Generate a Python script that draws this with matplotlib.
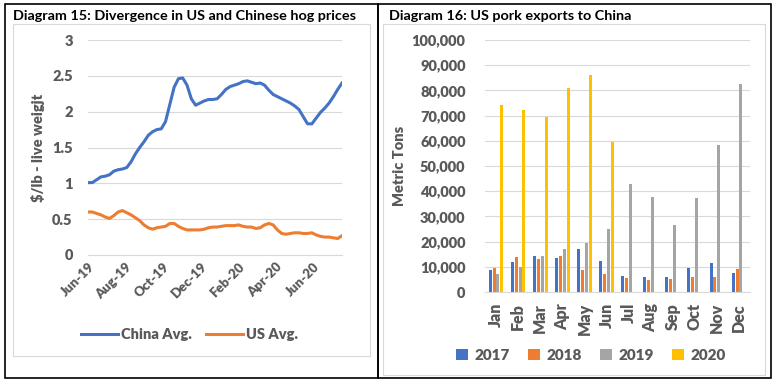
import numpy as np
import pandas as pd
import matplotlib
matplotlib.use("Agg")
import matplotlib.pyplot as plt
from matplotlib.patches import Rectangle

plt.rcParams["font.family"] = ["Lato", "DejaVu Sans"]
plt.rcParams["font.weight"] = "bold"
plt.rcParams["axes.labelweight"] = "bold"

# weekly hog prices, $/lb live weight
week_start = "2019-06-01"
china_avg = [1.01, 1.01, 1.05, 1.09, 1.10, 1.12, 1.17, 1.19, 1.20, 1.22,
             1.30, 1.41, 1.50, 1.58, 1.67, 1.72, 1.75, 1.76, 1.86, 2.10,
             2.34, 2.46, 2.47, 2.37, 2.18, 2.09, 2.12, 2.15, 2.17, 2.17,
             2.18, 2.24, 2.31, 2.35, 2.37, 2.39, 2.42, 2.43, 2.41, 2.39,
             2.40, 2.37, 2.30, 2.24, 2.21, 2.18, 2.15, 2.12, 2.08, 2.03,
             1.93, 1.83, 1.83, 1.91, 1.99, 2.05, 2.12, 2.21, 2.31, 2.40]
us_avg = [0.60, 0.60, 0.58, 0.56, 0.53, 0.51, 0.55, 0.60, 0.62, 0.59,
          0.56, 0.52, 0.48, 0.42, 0.38, 0.36, 0.38, 0.39, 0.40, 0.44,
          0.44, 0.40, 0.37, 0.35, 0.35, 0.35, 0.35, 0.36, 0.38, 0.39,
          0.39, 0.40, 0.41, 0.41, 0.41, 0.42, 0.40, 0.39, 0.39, 0.37,
          0.38, 0.42, 0.44, 0.42, 0.35, 0.30, 0.29, 0.30, 0.31, 0.31,
          0.30, 0.30, 0.31, 0.28, 0.26, 0.25, 0.25, 0.24, 0.23, 0.27]
price_ticks = ["2019-06-01", "2019-08-01", "2019-10-01", "2019-12-01",
               "2020-02-01", "2020-04-01", "2020-06-01"]

# monthly US pork exports to China, metric tons
months = ["Jan", "Feb", "Mar", "Apr", "May", "Jun",
          "Jul", "Aug", "Sep", "Oct", "Nov", "Dec"]
exp_2017 = [8900, 12100, 14100, 13300, 16900, 12500,
            6500, 6100, 6100, 9700, 11700, 7700]
exp_2018 = [9700, 13700, 12900, 14100, 8900, 7300,
            5700, 4900, 5300, 6100, 6100, 9300]
exp_2019 = [7300, 10000, 14100, 16900, 19300, 24900,
            42900, 37700, 26500, 37300, 58300, 82500]
exp_2020 = [74200, 72200, 69600, 81000, 86100, 59600,
            np.nan, np.nan, np.nan, np.nan, np.nan, np.nan]

BLUE = "#4472C4"
ORANGE = "#ED7D31"
GRAY = "#A5A5A5"
GOLD = "#FFC000"
TXT = "#595959"
GRID = "#D9D9D9"
HEAVY = "heavy"

W, H = 776, 386
fig = plt.figure(figsize=(W / 100, H / 100), dpi=100)


def px_rect(x0, y0, x1, y1):
    # pixel box (top-left origin) -> figure fraction [l, b, w, h]
    return [x0 / W, (H - y1) / H, (x1 - x0) / W, (y1 - y0) / H]


def frame(x0, y0, x1, y1, color, lw):
    l, b, w, h = px_rect(x0, y0, x1, y1)
    fig.add_artist(Rectangle((l, b), w, h, transform=fig.transFigure,
                             fill=False, edgecolor=color, linewidth=lw))


frame(5, 4, 378, 378, "black", 1.2)
frame(378, 4, 771, 378, "black", 1.2)
frame(13, 24, 370, 356, GRID, 0.8)
frame(383, 24, 765, 375, GRID, 0.8)

fig.text(13 / W, 1 - 16 / H, "Diagram 15: Divergence in US and Chinese hog prices",
         fontsize=10.4, fontweight="bold", va="center", ha="left")
fig.text(389 / W, 1 - 16 / H, "Diagram 16: US pork exports to China",
         fontsize=10.4, fontweight="bold", va="center", ha="left")


def style_axes(ax, size_x, size_y):
    ax.grid(axis="y", color=GRID, linewidth=0.8)
    ax.set_axisbelow(True)
    for s in ["top", "right", "left"]:
        ax.spines[s].set_visible(False)
    ax.spines["bottom"].set_color(GRID)
    ax.tick_params(length=0, colors=TXT)
    for lab in ax.get_xticklabels():
        lab.set_fontweight(HEAVY)
        lab.set_fontsize(size_x)
    for lab in ax.get_yticklabels():
        lab.set_fontweight(HEAVY)
        lab.set_fontsize(size_y)


# --- left: hog prices
ax1 = fig.add_axes(px_rect(88, 40, 342, 255))
dates = pd.date_range(week_start, periods=len(china_avg), freq="7D")
ax1.plot(dates, china_avg, color=BLUE, linewidth=2.2, label="China Avg.")
ax1.plot(dates, us_avg, color=ORANGE, linewidth=2.2, label="US Avg.")
ax1.set_xlim(dates[0], dates[-1])
ax1.set_ylim(0, 3)
ax1.set_yticks(np.arange(0, 3.01, 0.5))
ax1.set_yticklabels([f"{v:g}" for v in np.arange(0, 3.01, 0.5)])
tick_dates = pd.to_datetime(price_ticks)
ax1.set_xticks(tick_dates)
ax1.set_xticklabels([d.strftime("%b-%y") for d in tick_dates],
                    rotation=45, ha="right", rotation_mode="anchor")
style_axes(ax1, 9.5, 10.5)
ax1.tick_params(axis="y", pad=11)
ax1.tick_params(axis="x", pad=4)
ax1.set_ylabel("$/lb - live weigjt", fontsize=10.5, color=TXT, labelpad=5,
               fontweight=HEAVY)
ax1.legend(loc="upper center", bbox_to_anchor=(0.4, -0.28), ncol=2,
           frameon=False, prop={"size": 10.5, "weight": HEAVY},
           labelcolor=TXT, handlelength=2.5,
           columnspacing=1.0, handletextpad=0.2)

# --- right: exports
ax2 = fig.add_axes(px_rect(485, 40, 750, 292))
x = np.arange(len(months))
pitch = 0.177
bw = 0.136
series = [("2017", exp_2017, BLUE), ("2018", exp_2018, ORANGE),
          ("2019", exp_2019, GRAY), ("2020", exp_2020, GOLD)]
for i, (name, vals, col) in enumerate(series):
    ax2.bar(x + (i - 1.5) * pitch, vals, width=bw, color=col, label=name)
ax2.set_xlim(-0.5, len(months) - 0.5)
ax2.set_ylim(0, 100000)
yt = np.arange(0, 100001, 10000)
ax2.set_yticks(yt)
ax2.set_yticklabels([f"{int(v):,}" for v in yt])
ax2.set_xticks(x)
ax2.set_xticklabels(months, rotation=90)
style_axes(ax2, 11.5, 10.5)
ax2.tick_params(axis="y", pad=14)
ax2.tick_params(axis="x", pad=8)
ax2.set_ylabel("Metric Tons", fontsize=10.5, color=TXT, labelpad=4,
               fontweight=HEAVY)
ax2.legend(loc="upper center", bbox_to_anchor=(0.4, -0.17), ncol=4,
           frameon=False, prop={"size": 11, "weight": HEAVY},
           labelcolor=TXT, handlelength=0.8,
           handleheight=0.8, columnspacing=1.2, handletextpad=0.4)

fig.savefig("out.png", dpi=100)
